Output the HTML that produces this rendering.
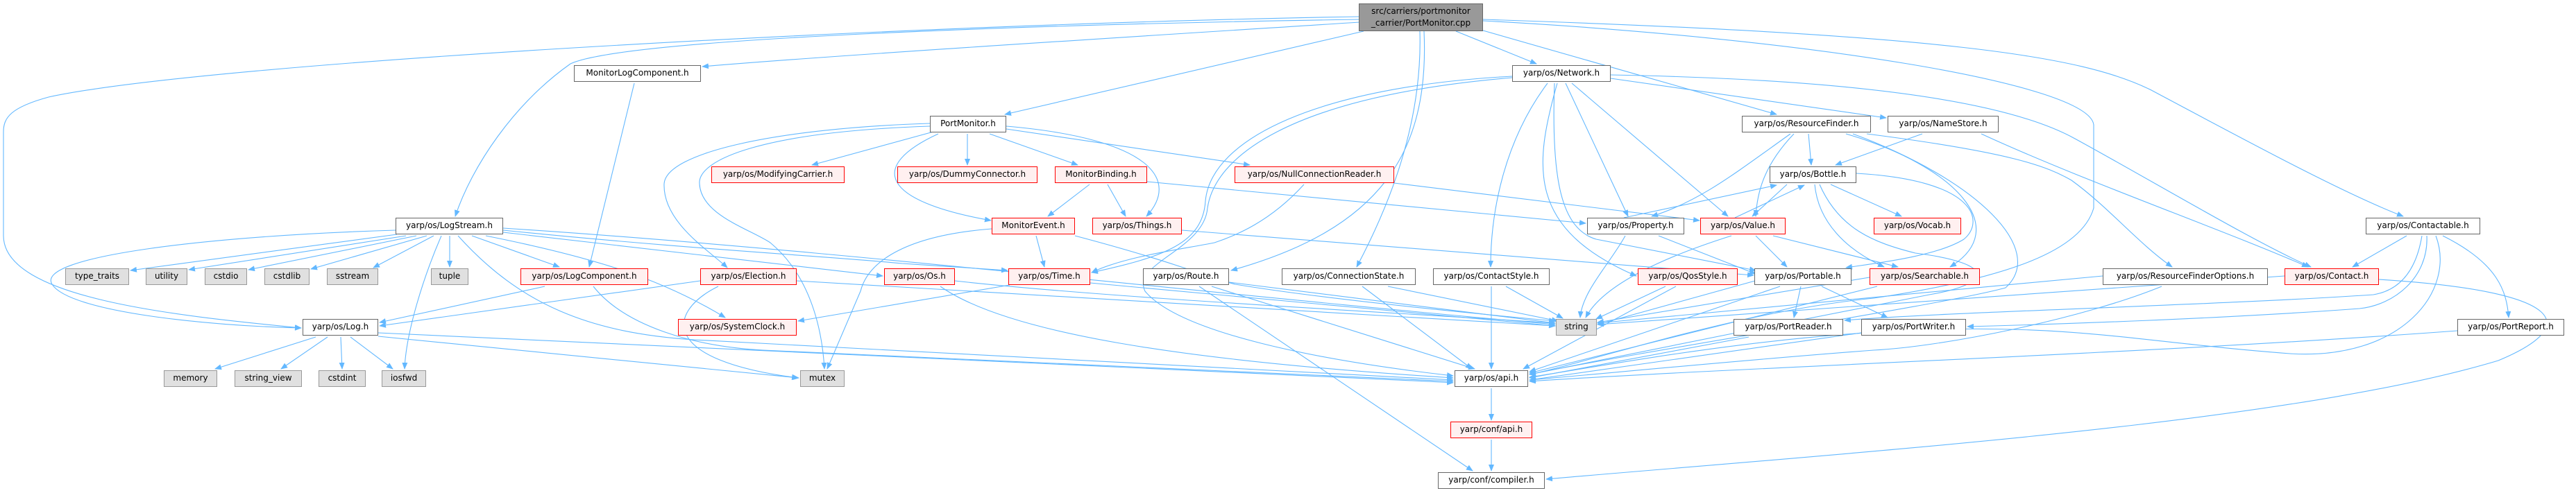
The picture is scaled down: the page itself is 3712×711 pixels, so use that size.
<!DOCTYPE html>
<html><head><meta charset="utf-8"><style>
html,body{margin:0;padding:0;background:#fff;}
#c{position:relative;width:3712px;height:711px;overflow:hidden;background:#fff;}
.n{position:absolute;height:24px;box-sizing:border-box;border:1.5px solid #666;background:#fff;font-family:"DejaVu Sans","Liberation Sans",sans-serif;font-size:12px;line-height:21px;text-align:center;color:#000;white-space:nowrap;}
.r{border-color:#ff0000;background:#fff0f0;}
.g{border-color:#999;background:#e0e0e0;}
svg{position:absolute;left:0;top:0;}
</style></head><body><div id="c">
<svg width="3712" height="711" viewBox="0 0 3712 711">
<defs><marker id="a" markerWidth="10" markerHeight="8" refX="9" refY="4" orient="auto" markerUnits="userSpaceOnUse"><path d="M0,0 L10,4 L0,8 z" fill="#63b8ff"/></marker></defs>
<g fill="none" stroke="#63b8ff" stroke-width="1.1" marker-end="url(#a)">
<path d="M1959,32 C1600,55 1200,80 1012,96"/>
<path d="M1959,28 C1500,35 900,55 822,92 C740,150 680,240 656,312"/>
<path d="M1959,24 C1300,35 300,90 70,140 C15,155 5,170 5,190 L5,340 C5,430 250,455 434,473"/>
<path d="M1965,45 L1448,165"/>
<path d="M2098,45 L2214,92"/>
<path d="M2052,45 C2060,220 1990,330 1774,390"/>
<path d="M2046,45 C2050,180 2000,300 1955,385"/>
<path d="M2137,44 L2560,165"/>
<path d="M2137,30 C2600,55 3010,120 3017,180 L3017,300 C3000,360 2900,400 2700,430 C2500,450 2300,520 2204,540"/>
<path d="M2137,28 C2800,50 3000,80 3100,130 C3250,210 3380,280 3463,312"/>
<path d="M2321,113 L2718,170"/>
<path d="M2321,108 C2700,115 2900,150 2990,200 C3100,260 3250,350 3330,385"/>
<path d="M2256,120 L2346,312"/>
<path d="M2265,120 L2490,312"/>
<path d="M2230,120 C2170,200 2148,300 2148,385"/>
<path d="M2244,120 C2210,240 2200,330 2358,398"/>
<path d="M2240,120 C2235,260 2250,330 2300,345 L2530,390"/>
<path d="M2179,110 C1900,125 1745,200 1737,290 C1733,350 1680,370 1573,393"/>
<path d="M2179,112 C1850,140 1750,230 1740,300 C1735,360 1630,380 1650,420 C1700,480 1900,520 2094,542"/>
<path d="M1394,193 L1394,238"/>
<path d="M1426,193 L1553,238"/>
<path d="M1450,186 L1801,238"/>
<path d="M1450,182 C1660,200 1700,260 1652,312"/>
<path d="M1352,193 C1250,240 1270,290 1428,318"/>
<path d="M1345,190 L1170,238"/>
<path d="M1340,178 C1120,185 960,220 957,265 C955,320 1020,360 1048,386"/>
<path d="M1340,182 C1100,190 1005,230 1008,265 C1010,310 1080,330 1110,350 C1170,400 1185,480 1188,532"/>
<path d="M1570,266 L1510,312"/>
<path d="M1596,266 L1622,312"/>
<path d="M1653,262 L2285,322"/>
<path d="M1879,266 C1830,320 1780,340 1750,350 C1700,360 1620,370 1573,393"/>
<path d="M2009,264 L2449,318"/>
<path d="M1493,340 L1505,385"/>
<path d="M1429,330 C1300,340 1250,380 1240,420 L1192,532"/>
<path d="M1549,340 C1700,380 1740,400 1780,410 C1900,430 2100,450 2241,463"/>
<path d="M1703,332 L2527,397"/>
<path d="M1376,405 C1600,430 2000,450 2241,466"/>
<path d="M1355,413 C1450,480 1700,520 2094,545"/>
<path d="M1571,408 L2241,470"/>
<path d="M1455,411 L1150,463"/>
<path d="M1771,407 L2241,466"/>
<path d="M1746,413 L2125,532"/>
<path d="M1728,413 L2122,679"/>
<path d="M2000,413 L2245,463"/>
<path d="M1963,413 L2121,532"/>
<path d="M2170,413 L2252,459"/>
<path d="M2149,413 L2149,532"/>
<path d="M2400,413 L2300,460"/>
<path d="M2415,413 L2195,532"/>
<path d="M2342,340 C2320,380 2280,420 2277,458"/>
<path d="M2390,340 L2530,395"/>
<path d="M2340,314 L2560,267"/>
<path d="M2500,314 L2600,267"/>
<path d="M2530,340 L2575,385"/>
<path d="M2555,340 L2735,385"/>
<path d="M2495,340 C2400,370 2310,410 2285,458"/>
<path d="M2575,266 L2525,312"/>
<path d="M2638,266 L2740,312"/>
<path d="M2675,250 C2850,260 2860,320 2830,345 C2790,370 2700,380 2660,386"/>
<path d="M2615,266 C2620,320 2660,360 2715,385"/>
<path d="M2622,266 C2650,330 2700,350 2760,365 C2880,380 2870,410 2780,425 C2600,460 2350,510 2204,540"/>
<path d="M2606,193 L2610,238"/>
<path d="M2585,193 C2540,240 2532,280 2530,312"/>
<path d="M2580,193 C2500,250 2450,290 2380,312"/>
<path d="M2660,193 C2820,240 2900,330 2810,385"/>
<path d="M2670,193 C2850,260 2950,360 2890,415 C2800,440 2400,500 2204,540"/>
<path d="M2690,193 C2900,220 2950,240 2985,260 C3040,300 3080,350 3130,385"/>
<path d="M2770,193 L2645,238"/>
<path d="M2855,193 C3000,260 3200,330 3326,385"/>
<path d="M3468,340 L3390,385"/>
<path d="M3520,340 C3600,380 3612,420 3615,458"/>
<path d="M3490,340 C3480,400 3450,420 3420,425 C3200,440 2800,450 2658,462"/>
<path d="M3497,340 C3500,400 3450,440 3400,445 C3200,460 2950,468 2835,471"/>
<path d="M3510,340 C3540,420 3460,520 3300,510 C3100,495 3000,470 2800,475 C2550,480 2300,530 2204,544"/>
<path d="M3030,398 L2302,466"/>
<path d="M3115,413 C3000,460 2800,500 2700,505 C2500,520 2300,540 2204,548"/>
<path d="M3292,398 L2302,468"/>
<path d="M3428,403 C3700,420 3720,470 3600,520 C3300,610 2700,650 2228,691"/>
<path d="M2595,413 L2585,458"/>
<path d="M2625,413 L2720,458"/>
<path d="M2565,413 L2204,536"/>
<path d="M2529,405 L2302,468"/>
<path d="M2705,413 L2204,538"/>
<path d="M2694,400 L2302,465"/>
<path d="M2520,486 L2204,545"/>
<path d="M2682,480 L2204,548"/>
<path d="M3541,477 C3100,510 2500,530 2204,550"/>
<path d="M2149,560 L2149,606"/>
<path d="M2149,634 L2149,679"/>
<path d="M572,338 L188,390"/>
<path d="M585,340 L272,389"/>
<path d="M600,340 L358,389"/>
<path d="M615,340 L448,388"/>
<path d="M625,340 L538,386"/>
<path d="M648,340 L648,385"/>
<path d="M636,340 C610,400 585,480 583,532"/>
<path d="M680,340 L806,385"/>
<path d="M570,332 C300,340 50,370 75,410 C100,450 300,470 434,473"/>
<path d="M700,340 C850,370 950,400 1045,458"/>
<path d="M725,335 L1272,398"/>
<path d="M725,332 C1000,360 1200,370 1300,380 L1452,390"/>
<path d="M660,340 C750,440 850,480 1000,490 L2094,548"/>
<path d="M725,329 C1200,360 1700,420 2241,468"/>
<path d="M785,413 L547,465"/>
<path d="M855,413 C900,470 1000,500 1100,505 L2094,550"/>
<path d="M1009,405 L547,470"/>
<path d="M1035,413 C960,450 950,520 1150,545"/>
<path d="M1148,405 L2241,470"/>
<path d="M455,486 L310,532"/>
<path d="M472,486 L405,532"/>
<path d="M491,486 L493,532"/>
<path d="M505,486 L566,532"/>
<path d="M545,485 L1151,545"/>
<path d="M545,480 C900,500 1500,520 2094,552"/>
<path d="M914,120 L849,385"/>
</g>
</svg>
<div class="n" style="left:1958px;top:5px;width:179px;height:40px;background:#999;line-height:17px;padding-top:2px;">src/carriers/portmonitor<br>_carrier/PortMonitor.cpp</div>
<div class="n" style="left:827px;top:94px;width:183px">MonitorLogComponent.h</div>
<div class="n" style="left:2179px;top:94px;width:142px">yarp/os/Network.h</div>
<div class="n" style="left:1340px;top:167px;width:110px">PortMonitor.h</div>
<div class="n" style="left:2510px;top:167px;width:186px">yarp/os/ResourceFinder.h</div>
<div class="n" style="left:2720px;top:167px;width:160px">yarp/os/NameStore.h</div>
<div class="n r" style="left:1025px;top:240px;width:192px">yarp/os/ModifyingCarrier.h</div>
<div class="n r" style="left:1293px;top:240px;width:202px">yarp/os/DummyConnector.h</div>
<div class="n r" style="left:1520px;top:240px;width:133px">MonitorBinding.h</div>
<div class="n r" style="left:1779px;top:240px;width:230px">yarp/os/NullConnectionReader.h</div>
<div class="n" style="left:2550px;top:240px;width:125px">yarp/os/Bottle.h</div>
<div class="n" style="left:570px;top:314px;width:155px">yarp/os/LogStream.h</div>
<div class="n r" style="left:1429px;top:314px;width:120px">MonitorEvent.h</div>
<div class="n r" style="left:1574px;top:314px;width:129px">yarp/os/Things.h</div>
<div class="n" style="left:2287px;top:314px;width:140px">yarp/os/Property.h</div>
<div class="n r" style="left:2450px;top:314px;width:123px">yarp/os/Value.h</div>
<div class="n r" style="left:2700px;top:314px;width:126px">yarp/os/Vocab.h</div>
<div class="n" style="left:3409px;top:314px;width:165px">yarp/os/Contactable.h</div>
<div class="n g" style="left:94px;top:387px;width:92px">type_traits</div>
<div class="n g" style="left:210px;top:387px;width:60px">utility</div>
<div class="n g" style="left:295px;top:387px;width:61px">cstdio</div>
<div class="n g" style="left:381px;top:387px;width:65px">cstdlib</div>
<div class="n g" style="left:471px;top:387px;width:74px">sstream</div>
<div class="n g" style="left:621px;top:387px;width:54px">tuple</div>
<div class="n r" style="left:750px;top:387px;width:184px">yarp/os/LogComponent.h</div>
<div class="n r" style="left:1009px;top:387px;width:139px">yarp/os/Election.h</div>
<div class="n r" style="left:1274px;top:387px;width:102px">yarp/os/Os.h</div>
<div class="n r" style="left:1453px;top:387px;width:118px">yarp/os/Time.h</div>
<div class="n" style="left:1647px;top:387px;width:124px">yarp/os/Route.h</div>
<div class="n" style="left:1847px;top:387px;width:193px">yarp/os/ConnectionState.h</div>
<div class="n" style="left:2065px;top:387px;width:168px">yarp/os/ContactStyle.h</div>
<div class="n r" style="left:2360px;top:387px;width:144px">yarp/os/QosStyle.h</div>
<div class="n" style="left:2528px;top:387px;width:140px">yarp/os/Portable.h</div>
<div class="n r" style="left:2694px;top:387px;width:159px">yarp/os/Searchable.h</div>
<div class="n" style="left:3030px;top:387px;width:238px">yarp/os/ResourceFinderOptions.h</div>
<div class="n r" style="left:3292px;top:387px;width:136px">yarp/os/Contact.h</div>
<div class="n" style="left:436px;top:460px;width:109px">yarp/os/Log.h</div>
<div class="n r" style="left:977px;top:460px;width:171px">yarp/os/SystemClock.h</div>
<div class="n g" style="left:2242px;top:460px;width:59px">string</div>
<div class="n" style="left:2498px;top:460px;width:158px">yarp/os/PortReader.h</div>
<div class="n" style="left:2682px;top:460px;width:151px">yarp/os/PortWriter.h</div>
<div class="n" style="left:3541px;top:460px;width:154px">yarp/os/PortReport.h</div>
<div class="n g" style="left:236px;top:534px;width:77px">memory</div>
<div class="n g" style="left:338px;top:534px;width:97px">string_view</div>
<div class="n g" style="left:459px;top:534px;width:68px">cstdint</div>
<div class="n g" style="left:550px;top:534px;width:64px">iosfwd</div>
<div class="n g" style="left:1153px;top:534px;width:64px">mutex</div>
<div class="n" style="left:2096px;top:534px;width:106px">yarp/os/api.h</div>
<div class="n r" style="left:2090px;top:608px;width:118px">yarp/conf/api.h</div>
<div class="n" style="left:2072px;top:681px;width:154px">yarp/conf/compiler.h</div>
</div></body></html>
